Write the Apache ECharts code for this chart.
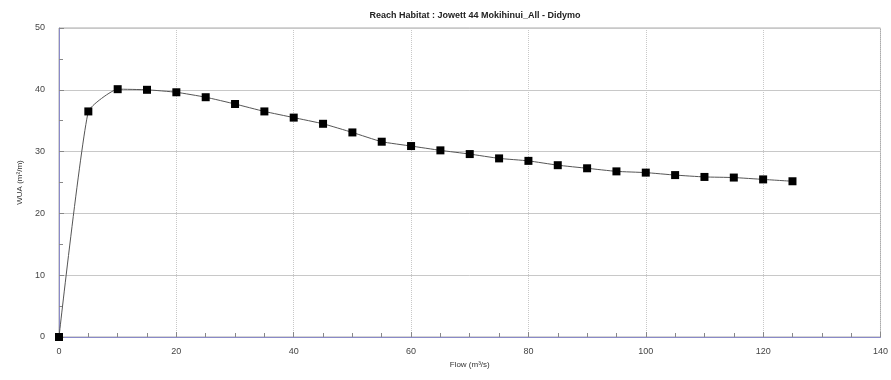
<!DOCTYPE html>
<html>
<head>
<meta charset="UTF-8">
<title>Reach Habitat</title>
<script src="https://cdn.jsdelivr.net/npm/echarts@6/dist/echarts.min.js"></script>
<style>
  html, body { margin: 0; padding: 0; background: #fff; }
  #chart { width: 891px; height: 380px; }
</style>
</head>
<body>
<div id="chart"></div>
<script>
// flow (m3/s) and weighted usable area
var flow = [0, 5, 10, 15, 20, 25, 30, 35, 40, 45, 50, 55, 60, 65, 70, 75, 80, 85, 90, 95, 100, 105, 110, 115, 120, 125];
var wua = [0, 36.5, 40.1, 40.0, 39.6, 38.8, 37.7, 36.5, 35.5, 34.5, 33.1, 31.6, 30.9, 30.2, 29.6, 28.9, 28.5, 27.8, 27.3, 26.8, 26.6, 26.2, 25.9, 25.8, 25.5, 25.2];

var pts = [];
for (var i = 0; i < flow.length; i++) pts.push([flow[i], wua[i]]);

var font = 'Liberation Sans, Arial, sans-serif';
var chart = echarts.init(document.getElementById('chart'));

chart.setOption({
  animation: false,
  title: {
    text: 'Reach Habitat : Jowett 44 Mokihinui_All - Didymo',
    left: 470, textAlign: 'center', top: 6,
    textStyle: { fontSize: 9, fontWeight: 'bold', color: '#222', fontFamily: font }
  },
  grid: {
    left: 59, right: 10, top: 28, bottom: 43,
    show: true, borderColor: '#aaa', borderWidth: 1
  },
  xAxis: {
    type: 'value', min: 0, max: 140, interval: 20,
    name: 'Flow (m³/s)', nameLocation: 'middle', nameGap: 23,
    nameTextStyle: { fontSize: 8, color: '#333', fontFamily: font },
    axisLine: { lineStyle: { color: '#8a8ac8' } },
    axisTick: { inside: true, length: 5, lineStyle: { color: '#888' } },
    minorTick: { show: true, splitNumber: 4, length: 4, lineStyle: { color: '#888' } },
    axisLabel: { fontSize: 9, color: '#444', fontFamily: font, margin: 10 },
    splitLine: { show: true, lineStyle: { color: '#c8c8c8', type: 'dotted' } }
  },
  yAxis: {
    type: 'value', min: 0, max: 50, interval: 10,
    name: 'WUA (m²/m)', nameLocation: 'middle', nameGap: 34,
    nameTextStyle: { fontSize: 8, color: '#333', fontFamily: font },
    axisLine: { show: true, lineStyle: { color: '#8a8ac8' } },
    axisTick: { inside: true, length: 5, lineStyle: { color: '#888' } },
    minorTick: { show: true, splitNumber: 2, length: 4, lineStyle: { color: '#888' } },
    axisLabel: { fontSize: 9, color: '#444', fontFamily: font, margin: 14 },
    splitLine: { show: true, lineStyle: { color: '#c8c8c8' } }
  },
  series: [{
    type: 'line',
    data: pts,
    smooth: 0.15,
    symbol: 'rect',
    symbolSize: 8,
    itemStyle: { color: '#000' },
    lineStyle: { color: '#555', width: 1 }
  }]
});
</script>
</body>
</html>
